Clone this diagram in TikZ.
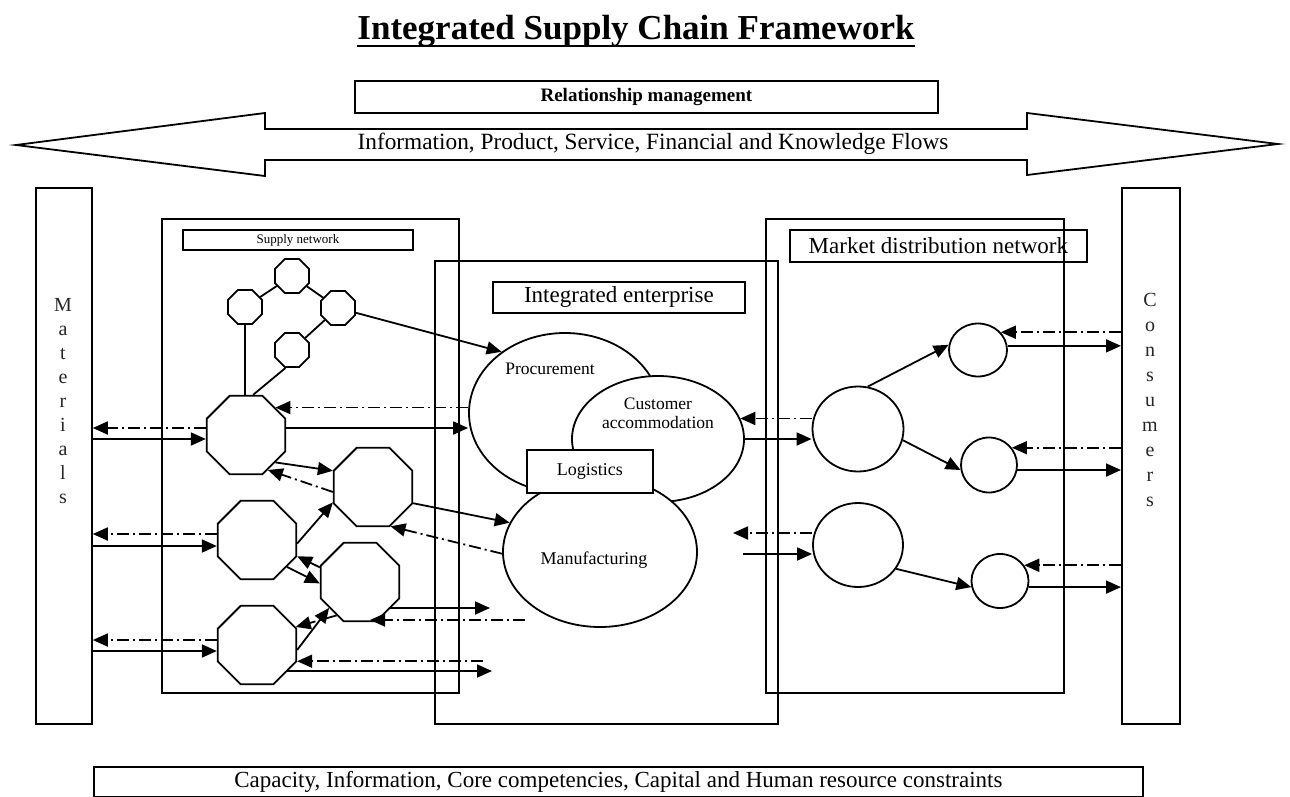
\documentclass[tikz,border=0pt]{standalone}
\usepackage{fontspec}
\setmainfont{Liberation Serif}
\usetikzlibrary{shapes.geometric,arrows.meta,calc}
\begin{document}
\begin{tikzpicture}[x=1pt,y=-1pt,
  ln/.style={line width=1.8pt},
  boxn/.style={draw, line width=1.8pt, inner sep=0pt, rectangle, anchor=north west},
  oct/.style={draw, line width=1.8pt, fill=white, regular polygon, regular polygon sides=8, inner sep=0pt, minimum size=#1},
  ell/.style={draw, line width=1.8pt, fill=white, ellipse, inner sep=0pt},
  sarr/.style={line width=1.8pt, -{Triangle[length=15pt,width=13pt]}},
  darr/.style={sarr, dash pattern=on 12pt off 4pt on 2pt off 4pt},
  txt/.style={inner sep=0pt, font=\fontsize{23.3}{27}\selectfont},
  vtxt/.style={anchor=north, inner sep=0pt, align=center, text=black!85},
]
\useasboundingbox (0,0) rectangle (1290,797);

% title
\node[inner sep=0pt, anchor=base, font=\fontsize{35}{40}\selectfont\bfseries] (title) at (636,40) {Integrated Supply Chain Framework};
\draw[line width=2.6pt] ([yshift=-6pt]title.base west) -- ([yshift=-6pt]title.base east);

% relationship box and big double arrow
\node[boxn, minimum width=583, minimum height=32, font=\fontsize{19}{22}\selectfont\bfseries] (rel) at (354,80) {Relationship management};
\draw[ln] (16,145) -- (265,113) -- (265,129) -- (1027,129) -- (1027,113) -- (1278,144) -- (1027,175) -- (1027,160) -- (265,160) -- (265,176) -- cycle;
\node[txt] (flows) at (653,144) {Information, Product, Service, Financial and Knowledge Flows};

% side boxes
\node[boxn, minimum width=56, minimum height=536] (mat) at (35,187) {};
\node[boxn, minimum width=58, minimum height=536] (cons) at (1121,187) {};
\node[vtxt, font=\fontsize{20}{24}\selectfont] (matt) at (63,298) {M\\a\\t\\e\\r\\i\\a\\l\\s};
\node[vtxt, font=\fontsize{20}{25}\selectfont] (const) at (1150,293) {C\\o\\n\\s\\u\\m\\e\\r\\s};

% network boxes
\node[boxn, minimum width=297, minimum height=474] (sup) at (161,218) {};
\node[boxn, minimum width=230, minimum height=20, font=\fontsize{13}{15}\selectfont] (supl) at (182,229) {Supply network};
\node[boxn, minimum width=343, minimum height=463] (ent) at (434,260) {};
\node[boxn, minimum width=252, minimum height=31, font=\fontsize{23}{27}\selectfont] (entl) at (492,281) {Integrated enterprise};
\node[boxn, minimum width=298, minimum height=474] (mkt) at (765,218) {};
\node[boxn, minimum width=297, minimum height=32, font=\fontsize{23}{27}\selectfont] (mktl) at (789,229) {Market distribution network};
\node[boxn, minimum width=1049, minimum height=30, font=\fontsize{23}{27}\selectfont] (bot) at (93,766) {Capacity, Information, Core competencies, Capital and Human resource constraints};

% enterprise functions
\node[ell, minimum width=192, minimum height=160] (proc) at (565,413) {};
\node[ell, minimum width=172, minimum height=126] (cust) at (658,439) {};
\node[ell, minimum width=194, minimum height=150] (manu) at (600,552) {};
\node[boxn, fill=white, minimum width=126, minimum height=43, font=\fontsize{18}{21}\selectfont] (logi) at (526,449) {Logistics};
\node[inner sep=0pt, font=\fontsize{17.5}{20}\selectfont] (proct) at (550,369) {Procurement};
\node[inner sep=0pt, align=center, font=\fontsize{17.5}{19}\selectfont] (custt) at (658,413) {Customer\\accommodation};
\node[inner sep=0pt, font=\fontsize{18}{21}\selectfont] (manut) at (594,560) {Manufacturing};

% supply network octagons
\node[oct=37] (sa) at (292,276) {};
\node[oct=37] (sb) at (245,307) {};
\node[oct=37] (sc) at (338,308) {};
\node[oct=37] (sd) at (292,350) {};
\node[oct=85] (o1) at (246,435) {};
\node[oct=85] (o2) at (373,487) {};
\node[oct=85] (o3) at (257,540) {};
\node[oct=85] (o4) at (360,582) {};
\node[oct=85] (o5) at (257,645) {};

% market circles
\node[ell, minimum width=91, minimum height=85] (m1) at (858,429) {};
\node[ell, minimum width=90, minimum height=84] (m2) at (858,545) {};
\node[ell, minimum width=58, minimum height=53] (s1) at (978,350) {};
\node[ell, minimum width=56, minimum height=55] (s2) at (989,465) {};
\node[ell, minimum width=57, minimum height=54] (s3) at (1000,581) {};

% free ends
\coordinate (e4s) at (490,0);
\coordinate (e4d) at (525,0);
\coordinate (e5s) at (492,0);
\coordinate (e5d) at (483,0);
\coordinate (ml) at (733,533);
\coordinate (ms) at (743,554);

% supply network links
\draw[ln] (sb) -- (sa);
\draw[ln] (sa) -- (sc);
\draw[ln] (sc) -- (sd);
\draw[ln] (sb.south) -- (sb.south |- o1.north);
\draw[ln] (sd.250) -- (o1.80);
\draw[sarr] (sc) -- (proc.136);

\draw[sarr] ($(o1.east)+(0,-7)$) -- ($(proc.west|-o1.east)+(0,-7)$);
\draw[darr] (proc.west|-o1.43) -- (o1.43);

\draw[darr] ($(o1.west)+(0,-7)$) -- ($(mat.east|-o1.west)+(0,-7)$);
\draw[sarr] ($(mat.east|-o1.west)+(0,4)$) -- ($(o1.west)+(0,4)$);
\draw[darr] ($(o3.west)+(0,-6)$) -- ($(mat.east|-o3.west)+(0,-6)$);
\draw[sarr] ($(mat.east|-o3.west)+(0,6)$) -- ($(o3.west)+(0,6)$);
\draw[darr] ($(o5.west)+(0,-5)$) -- ($(mat.east|-o5.west)+(0,-5)$);
\draw[sarr] ($(mat.east|-o5.west)+(0,6)$) -- ($(o5.west)+(0,6)$);

\draw[sarr] (o1.-43) -- (o2.158);
\draw[darr] (o2.187) -- (o1.-58);
\draw[sarr] (o3.-5) -- (o2.201);
\draw[sarr] (o3.-42) -- (o4.182);
\draw[darr] (o4.160) -- (o3.-22);
\draw[sarr] (o5.-7) -- (o4.220);
\draw[darr] (o4.235) -- (o5.25);
\draw[sarr] (o2.-22.5) -- (manu.162);
\draw[darr] (manu.181) -- (o2.-66);
\draw[sarr] ($(o4.center)+(29.6,26)$) -- ($(e4s|-o4.center)+(0,26)$);
\draw[darr] ($(e4d|-o4.center)+(0,38)$) -- ($(o4.center)+(10,38)$);
\draw[sarr] ($(o5.center)+(29.6,26)$) -- ($(e5s|-o5.center)+(0,26)$);
\draw[darr] (e5d |- o5.-22) -- (o5.-22);

% market links
\draw[sarr] (m1.77) -- (s1.170);
\draw[sarr] (m1.-14) -- (s2.190);
\draw[sarr] (m2.-32) -- (s3.192);
\draw[sarr] (s1.8) -- (cons.west|-s1.8);
\draw[darr] (cons.west|-s1.38) -- (s1.38);
\draw[sarr] (s2.-10) -- (cons.west|-s2.-10);
\draw[darr] (cons.west|-s2.37) -- (s2.37);
\draw[sarr] (s3.-12) -- (cons.west|-s3.-12);
\draw[darr] (cons.west|-s3.33) -- (s3.33);
\draw[darr] (m1.west|-cust.14) -- (cust.14);
\draw[sarr] (cust.east) -- (m1.west|-cust.east);
\draw[darr] (m2.west|-ml) -- (ml);
\draw[sarr] (ms) -- (m2.west|-ms);
\end{tikzpicture}
\end{document}
